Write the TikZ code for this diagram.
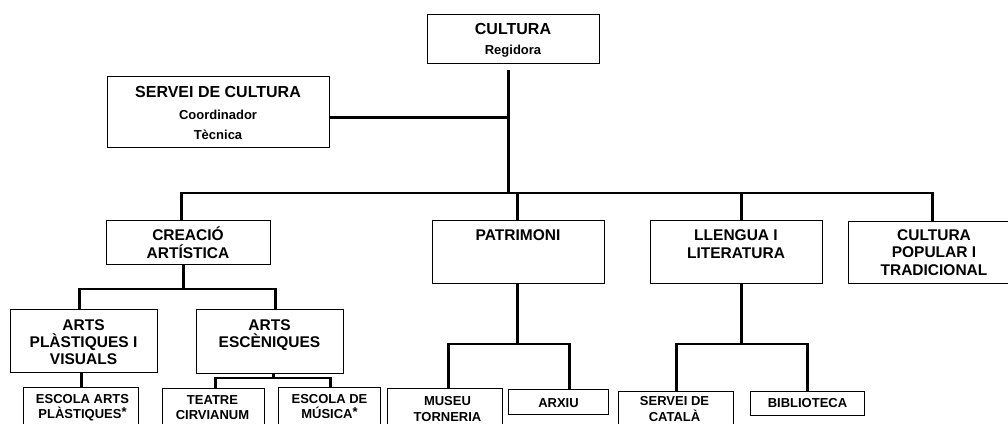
\documentclass[tikz,border=0pt]{standalone}
\usepackage{fontspec}
\setmainfont{Liberation Sans}
\begin{document}
\begin{tikzpicture}[x=1pt,y=-1pt,
  box/.style={draw, line width=0.9pt, inner sep=0pt, anchor=north west},
  conn/.style={line width=2.4pt},
  t1/.style={anchor=base, align=center, inner sep=0pt, font=\fontsize{16}{20}\selectfont\bfseries},
  t1s/.style={anchor=base, align=center, inner sep=0pt, font=\fontsize{13}{20}\selectfont\bfseries},
  t2/.style={anchor=base, align=center, inner sep=0pt, font=\fontsize{15.5}{17.3}\selectfont\bfseries},
  t3/.style={anchor=base, align=center, inner sep=0pt, font=\fontsize{15.5}{17}\selectfont\bfseries},
  t4/.style={anchor=base, align=center, inner sep=0pt, font=\fontsize{13}{15.5}\selectfont\bfseries}]
\useasboundingbox (0,0) rectangle (1008,423);
\clip (0,0) rectangle (1008,423);

% boxes
\node[box, minimum width=172pt, minimum height=49pt] (cul) at (427,14) {};
\node[box, minimum width=222pt, minimum height=71pt] (serv) at (107,76) {};
\node[box, minimum width=164pt, minimum height=44pt] (crea) at (106,220) {};
\node[box, minimum width=172pt, minimum height=63pt] (pat) at (432,220) {};
\node[box, minimum width=172pt, minimum height=63pt] (llen) at (650,220) {};
\node[box, minimum width=172pt, minimum height=62pt] (cpop) at (848,221) {};
\node[box, minimum width=147pt, minimum height=63pt] (apv) at (10,309) {};
\node[box, minimum width=147pt, minimum height=64pt] (aes) at (196,309) {};
\node[box, minimum width=115pt, minimum height=60pt] (esc) at (23,387) {};
\node[box, minimum width=102pt, minimum height=60pt] (teat) at (162,388) {};
\node[box, minimum width=102pt, minimum height=60pt] (mus) at (278,387) {};
\node[box, minimum width=115pt, minimum height=60pt] (muse) at (387,388) {};
\node[box, minimum width=100pt, minimum height=25pt] (arx) at (508,389) {};
\node[box, minimum width=115pt, minimum height=60pt] (scat) at (618,391) {};
\node[box, minimum width=114pt, minimum height=24pt] (bib) at (750,391) {};

% texts (anchor base = baseline of the last line)
\node[t1] (culT) at (513,34) {CULTURA};
\node[t1s] (culS) at (513,54) {Regidora};
\node[t1] (servT) at (218,97) {SERVEI DE CULTURA};
\node[t1s] (servS) at (218,139) {Coordinador\\Tècnica};
\node[t2] (creaT) at (188,258) {CREACIÓ\\ARTÍSTICA};
\node[t2] (patT) at (518,240.5) {PATRIMONI};
\node[t2] (llenT) at (736,258) {LLENGUA I\\LITERATURA};
\node[t2] (cpopT) at (934,275) {CULTURA\\POPULAR I\\TRADICIONAL};
\node[t3] (apvT) at (83.5,364) {ARTS\\PLÀSTIQUES I\\VISUALS};
\node[t3] (aesT) at (269.5,347) {ARTS\\ESCÈNIQUES};
\node[t4] (escT) at (82.5,418.5) {ESCOLA ARTS\\PLÀSTIQUES\raisebox{2pt}{*}};
\node[t4] (teatT) at (212.5,419.5) {TEATRE\\CIRVIANUM};
\node[t4] (musT) at (329.5,418.5) {ESCOLA DE\\MÚSICA\raisebox{2pt}{*}};
\node[t4] (museT) at (447.5,421) {MUSEU\\TORNERIA};
\node[t4] (arxT) at (558.5,407) {ARXIU};
\node[t4] (scatT) at (674.5,421) {SERVEI DE\\CATALÀ};
\node[t4] (bibT) at (807.5,407) {BIBLIOTECA};

% bus levels
\coordinate (yb1) at (0,193);
\coordinate (yb2) at (0,289);
\coordinate (yb3) at (0,378);
\coordinate (yb4) at (0,344);

% top level connectors
\coordinate (cx) at ([xshift=-5pt]cul.south);
\draw[conn] ([yshift=-6pt]cx) -- (cx |- yb1);
\coordinate (sa) at ([yshift=-5.5pt]serv.east);
\draw[conn] (sa) -- (sa -| cx);
\draw[conn] ([xshift=-7pt]crea.north) |- ([xshift=-2pt]cpop.north |- yb1) -- ([xshift=-2pt]cpop.north);
\draw[conn] ([xshift=-1pt]pat.north) -- ([xshift=-1pt]pat.north |- yb1);
\draw[conn] ([xshift=5pt]llen.north) -- ([xshift=5pt]llen.north |- yb1);

% creacio artistica
\draw[conn] ([xshift=-5pt]crea.south) -- ([xshift=-5pt]crea.south |- yb2);
\draw[conn] ([xshift=-4.5pt]apv.north) |- ([xshift=5.5pt]aes.north |- yb2) -- ([xshift=5.5pt]aes.north);
\draw[conn] ([xshift=-2.5pt]apv.south) -- ([xshift=-2.5pt]apv.south |- esc.north);
\draw[conn] ([xshift=3.5pt]aes.south) -- ([xshift=3.5pt]aes.south |- yb3);
\draw[conn] ([xshift=2pt]teat.north) |- ([xshift=1pt]mus.north |- yb3) -- ([xshift=1pt]mus.north);

% patrimoni
\draw[conn] ([xshift=-1pt]pat.south) -- ([xshift=-1pt]pat.south |- yb4);
\draw[conn] ([xshift=3.5pt]muse.north) |- ([xshift=11pt]arx.north |- yb4) -- ([xshift=11pt]arx.north);

% llengua
\draw[conn] ([xshift=5pt]llen.south) -- ([xshift=5pt]llen.south |- yb4);
\draw[conn] ([xshift=0.5pt]scat.north) |- (bib.north |- yb4) -- (bib.north);
\end{tikzpicture}
\end{document}
